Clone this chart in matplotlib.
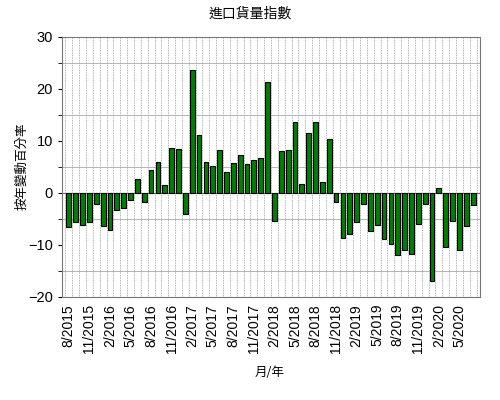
import matplotlib.pyplot as plt
import numpy as np

plt.rcParams['font.family'] = ['Liberation Sans', 'Noto Sans CJK TC', 'DejaVu Sans']

# monthly year-on-year % change, 8/2015 .. 7/2020
months = []
for i in range(60):
    m = (8 + i - 1) % 12 + 1
    y = 2015 + (8 + i - 1) // 12
    months.append('%d/%d' % (m, y))

values = [-6.5, -5.5, -6.2, -5.5, -2.1, -6.3, -7.2, -3.3, -2.9, -1.4,
          2.7, -1.7, 4.5, 6.0, 1.5, 8.6, 8.5, -4.0, 23.7, 11.2,
          5.9, 5.1, 8.3, 4.0, 5.8, 7.3, 5.6, 6.3, 6.8, 21.4,
          -5.3, 8.1, 8.3, 13.6, 1.7, 11.5, 13.7, 2.1, 10.4, -1.8,
          -8.7, -7.8, -5.6, -2.1, -7.3, -6.2, -8.8, -9.8, -12.0, -11.0,
          -11.7, -6.0, -2.1, -16.9, 0.9, -10.4, -5.3, -11.0, -6.3, -2.3]

title = '進口貨量指數'
ylabel = '按年變動百分率'
xlabel = '月/年'

fig = plt.figure(figsize=(5, 4), dpi=100)
ax = fig.add_axes([0.124, 0.2575, 0.836, 0.65])

x = np.arange(len(values))
ax.bar(x, values, width=0.7, color='#008000', edgecolor='black', linewidth=0.8, zorder=3)

ax.set_xlim(-1, len(values))
ax.set_ylim(-20, 30)
ax.set_yticks([-20, -10, 0, 10, 20, 30])
ax.set_yticks(np.arange(-20, 31, 5), minor=True)
ax.set_xticks(x[::3])
ax.set_xticklabels(months[::3], rotation=90, fontsize=10)
ax.set_xticks(np.arange(-0.5, len(values), 1), minor=True)
ax.tick_params(axis='y', labelsize=10.5, length=3, which='both')
ax.tick_params(axis='x', length=0, which='both', pad=5)

ax.grid(True, which='minor', axis='x', color='#999999', linestyle=(0, (1, 1)), linewidth=0.6, zorder=0)
ax.grid(True, which='minor', axis='y', color='#aaaaaa', linestyle='-', linewidth=0.6, zorder=0)
ax.axhline(0, color='#666666', linewidth=0.8, zorder=2)

for s in ax.spines.values():
    s.set_color('#777777')
    s.set_linestyle((0, (1, 1)))

fig.text(0.5, 0.965, title, ha='center', va='center', fontsize=10, family=['Noto Sans CJK TC'])
fig.text(0.045, 0.585, ylabel, ha='center', va='center', rotation=90, fontsize=9, family=['Noto Sans CJK TC'])
fig.text(0.54, 0.07, xlabel, ha='center', va='center', fontsize=9, family=['Noto Sans CJK TC', 'DejaVu Sans'])

fig.savefig('out.png', dpi=100)
